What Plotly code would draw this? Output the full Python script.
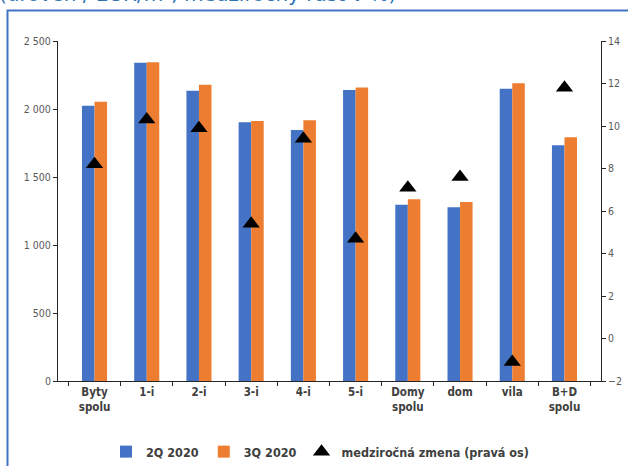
import plotly.graph_objects as go

# Categories (tick labels) and series values
categories = ["Byty<br>spolu", "1-i", "2-i", "3-i", "4-i", "5-i",
              "Domy<br>spolu", "dom", "vila", "B+D<br>spolu"]
q2_2020 = [2024, 2340, 2134, 1902, 1846, 2140, 1296, 1277, 2149, 1733]
q3_2020 = [2054, 2343, 2179, 1912, 1917, 2159, 1336, 1316, 2189, 1792]
yoy_change = [8.2, 10.3, 9.9, 5.4, 9.4, 4.7, 7.1, 7.6, -1.1, 11.8]

BLUE = "#4472C4"
ORANGE = "#ED7D31"
AXIS = "#262626"
TICK_TXT = "#595959"
LABEL_TXT = "#404040"

fig = go.Figure()
fig.add_trace(go.Bar(x=categories, y=q2_2020, name="2Q 2020",
                     marker=dict(color=BLUE, line=dict(width=0))))
fig.add_trace(go.Bar(x=categories, y=q3_2020, name="3Q 2020",
                     marker=dict(color=ORANGE, line=dict(width=0))))
fig.add_trace(go.Scatter(x=categories, y=yoy_change, yaxis="y2", mode="markers",
                         name="medziročná zmena (pravá os)",
                         marker=dict(symbol="triangle-up", size=15, color="black")))

W, H = 628, 466
L, R, T, B = 58, 27, 41, 85
pw, ph = W - L - R, H - T - B


def px_to_paper(px, py):
    return (px - L) / pw, (H - B - py) / ph


# Blue frame around the chart (top and left edges visible)
x0, y0 = px_to_paper(7.5, 10.5)
x1, y1 = px_to_paper(W + 20, H + 20)
fig.add_shape(type="rect", xref="paper", yref="paper", x0=x0, y0=y1, x1=x1, y1=y0,
              line=dict(color=BLUE, width=2), fillcolor="rgba(0,0,0,0)", layer="below")

# Heading, partly above the visible area
tx, ty = px_to_paper(-3, 8)
fig.add_annotation(xref="paper", yref="paper", x=tx, y=ty, xanchor="left", yanchor="bottom",
                   text="(úroveň / EUR/m², medziročný rast v %)", showarrow=False,
                   font=dict(family="DejaVu Sans", size=20, color="#2E74B5"))

fig.update_layout(
    width=W, height=H,
    margin=dict(l=L, r=R, t=T, b=B, pad=0, autoexpand=False),
    paper_bgcolor="white", plot_bgcolor="white",
    barmode="group", bargap=0.52, bargroupgap=0,
    separators=", ",
    font=dict(family="DejaVu Sans Condensed", color=TICK_TXT),
    xaxis=dict(
        showline=True, linecolor=AXIS, linewidth=1, automargin=False,
        ticks="outside", tickson="boundaries", ticklen=4, tickcolor=AXIS,
        tickfont=dict(family="DejaVu Sans Condensed", size=11.5, color=LABEL_TXT, weight="bold"),
        showgrid=False, zeroline=False,
    ),
    yaxis=dict(
        range=[0, 2500], dtick=500, separatethousands=True, automargin=False,
        showline=True, linecolor=AXIS, linewidth=1,
        ticks="outside", ticklen=4, tickcolor=AXIS,
        tickfont=dict(family="DejaVu Sans Condensed", size=10.5, color=TICK_TXT),
        showgrid=False, zeroline=False,
    ),
    yaxis2=dict(
        range=[-2, 14], dtick=2, overlaying="y", side="right", automargin=False,
        showline=True, linecolor=AXIS, linewidth=1,
        ticks="outside", ticklen=4, tickcolor=AXIS,
        tickfont=dict(family="DejaVu Sans Condensed", size=10.5, color=TICK_TXT),
        showgrid=False, zeroline=False,
    ),
    legend=dict(
        orientation="h", xanchor="center", yanchor="middle",
        x=px_to_paper(320, 0)[0], y=px_to_paper(0, 452)[1],
        font=dict(family="DejaVu Sans Condensed", size=12.5, color=LABEL_TXT, weight="bold"),
        itemwidth=30, traceorder="normal",
    ),
    showlegend=True,
)

fig.write_html("out.html")
